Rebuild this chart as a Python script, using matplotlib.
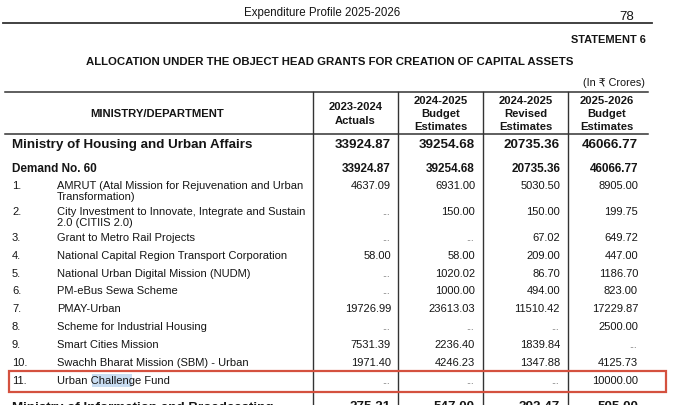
import matplotlib
matplotlib.use("Agg")
import matplotlib.pyplot as plt
from matplotlib.patches import Rectangle

plt.rcParams['font.family'] = ['Liberation Sans', 'DejaVu Sans']

# ---------------- data ----------------
page_header = "Expenditure Profile 2025-2026"
page_number = "78"
statement = "STATEMENT 6"
title = "ALLOCATION UNDER THE OBJECT HEAD GRANTS FOR CREATION OF CAPITAL ASSETS"
unit_note = "(In \u20b9 Crores)"

col_headers = ["MINISTRY/DEPARTMENT",
               "2023-2024\nActuals",
               "2024-2025\nBudget\nEstimates",
               "2024-2025\nRevised\nEstimates",
               "2025-2026\nBudget\nEstimates"]

ministry = "Ministry of Housing and Urban Affairs"
ministry_totals = [33924.87, 39254.68, 20735.36, 46066.77]
demand = "Demand No. 60"
demand_totals = [33924.87, 39254.68, 20735.36, 46066.77]

schemes = ["AMRUT (Atal Mission for Rejuvenation and Urban\nTransformation)",
           "City Investment to Innovate, Integrate and Sustain\n2.0 (CITIIS 2.0)",
           "Grant to Metro Rail Projects",
           "National Capital Region Transport Corporation",
           "National Urban Digital Mission (NUDM)",
           "PM-eBus Sewa Scheme",
           "PMAY-Urban",
           "Scheme for Industrial Housing",
           "Smart Cities Mission",
           "Swachh Bharat Mission (SBM) - Urban",
           "Urban Challenge Fund"]
actuals_2324 = [4637.09, None, None, 58.00, None, None, 19726.99, None, 7531.39, 1971.40, None]
be_2425 = [6931.00, 150.00, None, 58.00, 1020.02, 1000.00, 23613.03, None, 2236.40, 4246.23, None]
re_2425 = [5030.50, 150.00, 67.02, 209.00, 86.70, 494.00, 11510.42, None, 1839.84, 1347.88, None]
be_2526 = [8905.00, 199.75, 649.72, 447.00, 1186.70, 823.00, 17229.87, 2500.00, None, 4125.73, 10000.00]

next_ministry = "Ministry of Information and Broadcasting"
next_totals = [275.21, 547.00, 392.47, 505.00]

highlight_scheme = "Urban Challenge Fund"
highlight_word = "Challen"

# ---------------- layout ----------------
W, H = 680, 405
fig = plt.figure(figsize=(W / 100, H / 100), dpi=100)
ax = fig.add_axes([0, 0, 1, 1])
ax.set_xlim(0, W)
ax.set_ylim(H, 0)
ax.axis('off')

ink = '#151515'
fs = 8.0
col_lines = [313, 398, 483, 568]
num_right = [391, 475, 560, 638]
hdr_centers = [157, 355.5, 440.5, 525.5, 607]

# page header
ax.text(322, 13, page_header, ha='center', va='center', fontsize=8.3, color=ink)
ax.text(627, 17, page_number, ha='center', va='center', fontsize=9.5, color=ink)
ax.plot([3, 652], [23, 23], color='#333333', lw=1.3)
ax.text(646, 40, statement, ha='right', va='center', fontsize=7.9, fontweight='bold', color=ink)
ax.text(330, 62, title, ha='center', va='center', fontsize=8.2, fontweight='bold', color=ink)
ax.text(645, 83, unit_note, ha='right', va='center', fontsize=7.8, color=ink)

# table frame
ax.plot([5, 648], [92, 92], color='#333333', lw=1.1)
ax.plot([5, 648], [134, 134], color='#333333', lw=1.1)
for x in col_lines:
    ax.plot([x, x], [92, H + 2], color='#333333', lw=1.0)

# column headers
for i, h in enumerate(col_headers):
    lines = h.split("\n")
    n = len(lines)
    for j, ln in enumerate(lines):
        y = 114 + (j - (n - 1) / 2) * 13.5
        ax.text(hdr_centers[i], y, ln, ha='center', va='center', fontsize=8.1,
                fontweight='bold', color=ink)


def fmt(v):
    return None if v is None else f"{v:.2f}"


def put_values(vals, ybase, size, weight):
    for k, v in enumerate(vals):
        s = fmt(v)
        if s is None:
            ax.text(num_right[k] - 1, ybase, "...", ha='right', va='baseline',
                    fontsize=6.5, color='#7a7a7a')
        else:
            ax.text(num_right[k], ybase, s, ha='right', va='baseline',
                    fontsize=size, fontweight=weight, color=ink)


# ministry row
ax.text(12, 148, ministry, ha='left', va='baseline', fontsize=9.6, fontweight='bold', color=ink)
put_values(ministry_totals, 147.5, 9.6, 'bold')

# demand row
ax.text(12, 172, demand, ha='left', va='baseline', fontsize=8.5, fontweight='bold', color=ink)
put_values(demand_totals, 172, 8.5, 'bold')

# scheme rows
y = 185
series = list(zip(actuals_2324, be_2425, re_2425, be_2526))
row_y = []
for i, name in enumerate(schemes):
    lines = name.split("\n")
    base = y + 4
    row_y.append(y)
    ax.text(12, base, f"{i + 1}.", ha='left', va='baseline', fontsize=fs, color=ink)
    for j, ln in enumerate(lines):
        ax.text(57, base + 11.5 * j, ln, ha='left', va='baseline', fontsize=fs, color=ink)
    put_values(series[i], base, fs, 'normal')
    y += 17.9 + 8 * (len(lines) - 1)

# highlight selection on "Challen"
fig.canvas.draw()
r = fig.canvas.get_renderer()
hi = schemes.index(highlight_scheme)
hy = row_y[hi]
full = highlight_scheme
start = full.index(highlight_word)
t1 = ax.text(57, hy + 4, full[:start], fontsize=fs, va='baseline')
t2 = ax.text(57, hy + 4, full[:start + len(highlight_word)], fontsize=fs, va='baseline')
inv = ax.transData.inverted()
x1 = inv.transform((t1.get_window_extent(r).x1, 0))[0]
x2 = inv.transform((t2.get_window_extent(r).x1, 0))[0]
t1.remove()
t2.remove()
ax.add_patch(Rectangle((x1 + 1, hy - 6), x2 - x1 + 2, 13, facecolor='#c9ddf2',
                       edgecolor='none', zorder=0))

# red box
ax.add_patch(Rectangle((9, hy - 8.5), 657, 20.5, facecolor='none',
                       edgecolor='#d4513f', lw=1.6, zorder=5))

# next ministry (clipped at bottom, as in the reference)
ax.text(12, 411, next_ministry, ha='left', va='baseline', fontsize=9.6, fontweight='bold',
        color=ink, clip_on=True)
put_values(next_totals, 410.5, 9.6, 'bold')

fig.savefig("out.png", dpi=100, facecolor='white')
